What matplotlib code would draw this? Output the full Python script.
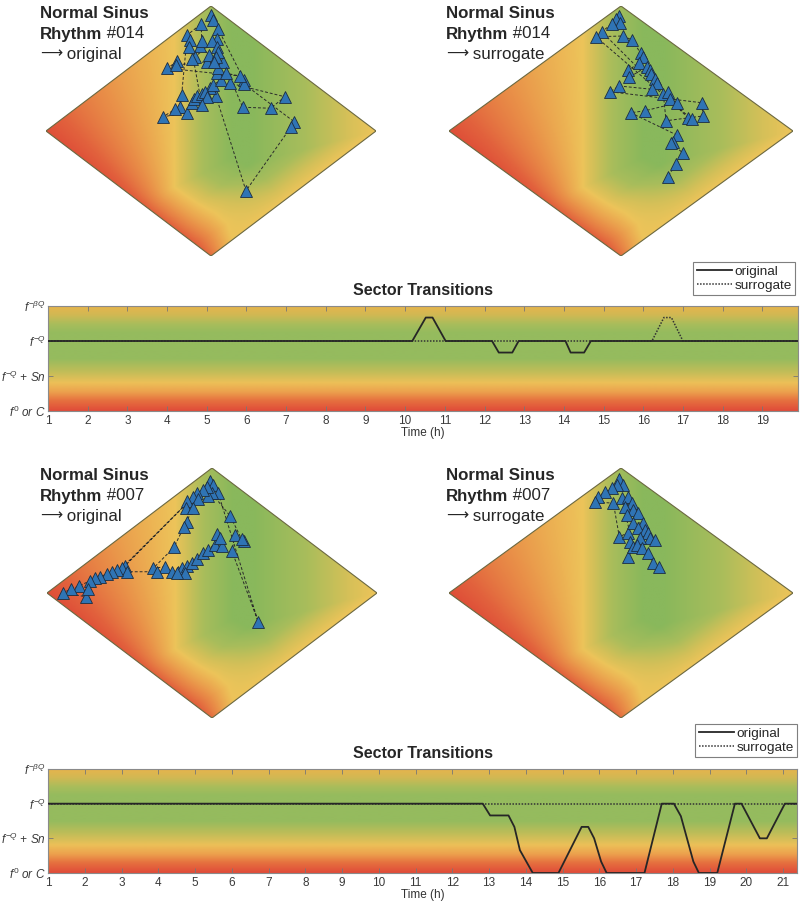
import numpy as np
import matplotlib
matplotlib.use('Agg')
import matplotlib.pyplot as plt
from matplotlib.colors import LinearSegmentedColormap
from matplotlib.patches import Polygon
from matplotlib.lines import Line2D

plt.rcParams['font.family'] = ['Liberation Sans', 'DejaVu Sans']
plt.rcParams['mathtext.fontset'] = 'custom'
plt.rcParams['mathtext.rm'] = 'Liberation Sans'
plt.rcParams['mathtext.it'] = 'Liberation Sans:italic'

# ---- trajectories on the plane (u: left->right vertex, v: bottom->top vertex) ----
nsr014_orig_u = [0.499, 0.507, 0.522, 0.600, 0.600, 0.752, 0.742, 0.606, 0.515, 0.497, 0.507, 0.529, 0.517,
                 0.522, 0.537, 0.596, 0.681, 0.724, 0.558, 0.545, 0.588, 0.368, 0.398, 0.394, 0.487, 0.495,
                 0.467, 0.472, 0.470, 0.428, 0.411, 0.406, 0.391, 0.355, 0.426, 0.442, 0.448, 0.457, 0.472,
                 0.482, 0.487, 0.472, 0.436, 0.434, 0.452, 0.442, 0.517, 0.502, 0.517, 0.522, 0.515, 0.509]
nsr014_orig_v = [0.964, 0.944, 0.907, 0.704, 0.688, 0.537, 0.515, 0.261, 0.640, 0.671, 0.684, 0.704, 0.731,
                 0.751, 0.777, 0.595, 0.591, 0.637, 0.691, 0.731, 0.720, 0.751, 0.780, 0.764, 0.777, 0.804,
                 0.840, 0.861, 0.928, 0.884, 0.644, 0.595, 0.587, 0.557, 0.573, 0.611, 0.627, 0.640, 0.648,
                 0.657, 0.635, 0.604, 0.864, 0.837, 0.797, 0.787, 0.867, 0.861, 0.837, 0.817, 0.795, 0.777]

nsr014_surr_u = [0.495, 0.485, 0.497, 0.473, 0.444, 0.696, 0.706, 0.427, 0.505, 0.533, 0.557, 0.563, 0.553,
                 0.521, 0.524, 0.575, 0.584, 0.586, 0.599, 0.606, 0.589, 0.495, 0.468, 0.735, 0.738, 0.631,
                 0.623, 0.637, 0.642, 0.664, 0.570, 0.528, 0.662, 0.652, 0.644, 0.681, 0.660, 0.636]
nsr014_surr_v = [0.960, 0.947, 0.931, 0.928, 0.897, 0.551, 0.547, 0.877, 0.880, 0.864, 0.811, 0.795, 0.771,
                 0.744, 0.715, 0.757, 0.744, 0.728, 0.707, 0.691, 0.667, 0.680, 0.657, 0.613, 0.560, 0.541,
                 0.648, 0.657, 0.627, 0.613, 0.581, 0.573, 0.484, 0.457, 0.453, 0.411, 0.368, 0.317]

nsr007_orig_u = [0.494, 0.504, 0.519, 0.640, 0.560, 0.570, 0.597, 0.590, 0.555, 0.499, 0.489, 0.484, 0.474,
                 0.454, 0.236, 0.226, 0.442, 0.458, 0.423, 0.421, 0.442, 0.423, 0.415, 0.385, 0.322, 0.358,
                 0.378, 0.398, 0.408, 0.423, 0.438, 0.454, 0.474, 0.489, 0.509, 0.529, 0.516, 0.524, 0.418,
                 0.393, 0.332, 0.242, 0.211, 0.196, 0.181, 0.161, 0.145, 0.130, 0.098, 0.072, 0.049, 0.118, 0.125]
nsr007_orig_v = [0.949, 0.932, 0.899, 0.385, 0.669, 0.732, 0.709, 0.715, 0.808, 0.899, 0.888, 0.925, 0.912,
                 0.899, 0.608, 0.599, 0.883, 0.875, 0.869, 0.839, 0.839, 0.785, 0.765, 0.683, 0.599, 0.605,
                 0.585, 0.585, 0.599, 0.608, 0.619, 0.635, 0.659, 0.672, 0.692, 0.688, 0.736, 0.719, 0.579,
                 0.579, 0.585, 0.585, 0.592, 0.585, 0.576, 0.565, 0.559, 0.549, 0.528, 0.515, 0.501, 0.485, 0.515]

nsr007_surr_u = [0.495, 0.507, 0.488, 0.473, 0.453, 0.434, 0.424, 0.478, 0.495, 0.521, 0.526, 0.521, 0.536,
                 0.502, 0.521, 0.531, 0.512, 0.536, 0.550, 0.517, 0.536, 0.565, 0.550, 0.570, 0.579, 0.584,
                 0.599, 0.555, 0.546, 0.560, 0.579, 0.594, 0.611]
nsr007_surr_v = [0.955, 0.932, 0.932, 0.919, 0.905, 0.885, 0.865, 0.859, 0.725, 0.741, 0.705, 0.643, 0.683,
                 0.879, 0.885, 0.859, 0.845, 0.832, 0.821, 0.812, 0.779, 0.781, 0.759, 0.752, 0.739, 0.719,
                 0.712, 0.719, 0.692, 0.679, 0.659, 0.621, 0.605]

# ---- sector transitions (time in h, sector level 0..3) ----
level_labels = [r'$f^{0}$ or $C$', r'$f^{-Q}$ + $Sn$', r'$f^{-Q}$', r'$f^{-\beta Q}$']

nsr014_t_orig = [1, 10.18, 10.52, 10.69, 11.02, 12.19, 12.36, 12.70, 12.86, 14.04, 14.17, 14.51, 14.68, 19.9]
nsr014_l_orig = [2, 2, 2.67, 2.67, 2, 2, 1.67, 1.67, 2, 2, 1.67, 1.67, 2, 2]
nsr014_t_surr = [1, 16.22, 16.52, 16.71, 17.0, 19.9]
nsr014_l_surr = [2, 2, 2.67, 2.67, 2, 2]

nsr007_t_orig = [1, 12.83, 13.03, 13.53, 13.69, 13.84, 14.19, 14.89, 15.52, 15.70, 15.86, 16.05, 16.20,
                 17.23, 17.70, 18.03, 18.22, 18.56, 18.71, 19.21, 19.69, 19.87, 20.37, 20.56, 21.05, 21.38]
nsr007_l_orig = [2, 2, 1.66, 1.66, 1.33, 0.66, 0, 0, 1.33, 1.33, 1.0, 0.33, 0,
                 0, 2, 2, 1.64, 0.33, 0, 0, 2, 2, 1.0, 1.0, 2, 2]
nsr007_t_surr = [1, 21.38]
nsr007_l_surr = [2, 2]

W, H = 800, 906
fig = plt.figure(figsize=(8, 9.06), dpi=100)


def px_rect(x0, y0, x1, y1):
    return [x0 / W, 1 - y1 / H, (x1 - x0) / W, (y1 - y0) / H]


plane_cmap = LinearSegmentedColormap.from_list('plane', [
    (0.00, '#dd4636'), (0.15, '#e2623d'), (0.32, '#e98f48'), (0.44, '#ecb253'),
    (0.50, '#edc45a'), (0.62, '#d4c058'), (0.78, '#a9bd5b'), (1.00, '#89b85c')])

level_cmap = LinearSegmentedColormap.from_list('levels', [
    (0.00, '#e04b39'), (0.10, '#e6713f'), (0.18, '#eca04d'), (0.27, '#ecc058'),
    (0.38, '#bfbd58'), (0.50, '#95bb5e'), (0.75, '#95bb5e'), (0.83, '#a9bd5b'),
    (0.92, '#d2b853'), (1.00, '#e6b44d')])


def plane_field(n=320):
    g = np.linspace(-1, 1, n)
    X, Y = np.meshgrid(g, g)
    # ridge separating red side from green side
    ry = np.array([-1.0, -0.86, -0.74, -0.66, -0.58, -0.51, -0.45, 1.0])
    rx = np.array([0.13, 0.13, 0.10, 0.03, -0.08, -0.16, -0.22, -0.22])
    xb = np.interp(Y, ry, rx)
    ty = np.linspace(-1, 1, 400)
    tx = np.interp(ty, ry, rx)
    d = np.full(X.shape, np.inf)
    for bx, by in zip(tx, ty):
        d = np.minimum(d, np.hypot(X - bx, 0.76 * (Y - by)))
    a = np.clip(X + Y + 1, 0, None)
    c = np.clip(1 + Y - X, 0, None)
    left = 0.5 * (a + 0.08) / (a + d + 0.08)
    fade = np.minimum(np.clip(c / 0.5, 0, 1), np.clip((1 - X) / 0.75, 0, 1))
    right = 0.5 + 0.5 * np.clip(d / 0.35, 0, 1) ** 0.8 * fade
    s = np.where(X < xb, left, right)
    return plane_cmap(s)


FIELD = plane_field()
TXT = '#262626'


def draw_plane(rect, u, v, rec, kind, tx, ty):
    ax = fig.add_axes(rect)
    ax.set_xlim(0, 1)
    ax.set_ylim(0, 1)
    ax.axis('off')
    diamond = Polygon([(0.5, 1), (1, 0.5), (0.5, 0), (0, 0.5)], closed=True,
                      facecolor='none', edgecolor='#6b6840', lw=0.8, zorder=3)
    ax.add_patch(diamond)
    im = ax.imshow(FIELD, extent=(0, 1, 0, 1), origin='lower', aspect='auto',
                   interpolation='bilinear', zorder=1)
    im.set_clip_path(diamond)
    ax.plot(u, v, ls=(0, (3, 2)), color='#2b2b2b', lw=0.7, zorder=4, clip_on=False)
    ax.plot(u, v, ls='none', marker='^', ms=8, mfc='#2f74b5', mec='#1d2d40', mew=0.6,
            zorder=5, clip_on=False)

    fs = 12.2
    fig.text(tx / W, 1 - ty / H, 'Normal Sinus', fontsize=fs, fontweight='bold',
             color=TXT, va='baseline')
    t2 = fig.text(tx / W, 1 - (ty + 20) / H, 'Rhythm', fontsize=fs, fontweight='bold',
                  color=TXT, va='baseline')
    ax.annotate(' #' + rec, xy=(1, 0), xycoords=t2, va='bottom', ha='left',
                fontsize=fs, color=TXT, annotation_clip=False)
    t3 = fig.text(tx / W, 1 - (ty + 40) / H, '\u27f6', fontsize=fs - 1, family='DejaVu Sans',
                  color=TXT, va='baseline')
    ax.annotate(' ' + kind, xy=(1, 0), xycoords=t3, va='bottom', ha='left',
                fontsize=fs, color=TXT, annotation_clip=False)


def draw_sectors(rect, t_orig, l_orig, t_surr, l_surr, tmax, nticks, leg_right, leg_top):
    ax = fig.add_axes(rect)
    grad = np.linspace(0, 1, 256)[:, None]
    ax.imshow(grad, extent=(1, tmax, 0, 3), origin='lower', aspect='auto',
              cmap=level_cmap, zorder=0, interpolation='bilinear')
    ax.plot(t_surr, l_surr, ls=(0, (1, 1)), color='#333333', lw=1.1, zorder=2)
    ax.plot(t_orig, l_orig, color=TXT, lw=1.3, zorder=3)
    ax.set_xlim(1, tmax)
    ax.set_ylim(0, 3)
    ax.set_xticks(range(1, nticks + 1))
    ax.set_yticks([0, 1, 2, 3])
    ax.set_yticklabels(level_labels)
    ax.tick_params(direction='in', top=True, right=True, length=3.5, width=0.6,
                   color='#777777', labelcolor='#3a3a3a')
    ax.tick_params(axis='x', labelsize=8.5, pad=3)
    ax.tick_params(axis='y', labelsize=8.5, pad=1.5)
    for lbl in ax.get_yticklabels():
        lbl.set_fontstyle('italic')
    for sp in ax.spines.values():
        sp.set_color('#8a8a8a')
        sp.set_linewidth(0.8)
    ax.set_xlabel('Time (h)', fontsize=8.5, color='#333333', labelpad=0)
    ax.set_title('Sector Transitions', fontsize=11.5, fontweight='bold', color=TXT, pad=8)
    handles = [Line2D([], [], color=TXT, lw=1.3),
               Line2D([], [], color='#333333', lw=1.1, ls=(0, (1, 1)))]
    leg = ax.legend(handles, ['original', 'surrogate'], loc='upper right',
                    bbox_to_anchor=(leg_right / W, 1 - leg_top / H), bbox_transform=fig.transFigure,
                    fancybox=False, edgecolor='#7f7f7f', framealpha=1, fontsize=9.7,
                    handlelength=2.6, handletextpad=0.2, labelspacing=0.1, borderpad=0.25,
                    borderaxespad=0)
    leg.get_frame().set_linewidth(0.8)
    for txt in leg.get_texts():
        txt.set_color(TXT)


draw_plane(px_rect(46, 6, 376, 256), nsr014_orig_u, nsr014_orig_v, '014', 'original', 40, 18.5)
draw_plane(px_rect(449, 6, 793, 256), nsr014_surr_u, nsr014_surr_v, '014', 'surrogate', 446, 18.5)
draw_sectors(px_rect(48, 306, 798, 411), nsr014_t_orig, nsr014_l_orig, nsr014_t_surr, nsr014_l_surr,
             19.9, 19, 795, 262)

draw_plane(px_rect(47, 468, 377, 718), nsr007_orig_u, nsr007_orig_v, '007', 'original', 40, 480.5)
draw_plane(px_rect(449, 468, 793, 718), nsr007_surr_u, nsr007_surr_v, '007', 'surrogate', 446, 480.5)
draw_sectors(px_rect(48, 769, 797, 873), nsr007_t_orig, nsr007_l_orig, nsr007_t_surr, nsr007_l_surr,
             21.38, 21, 797, 724)

fig.savefig('out.png', dpi=100)
